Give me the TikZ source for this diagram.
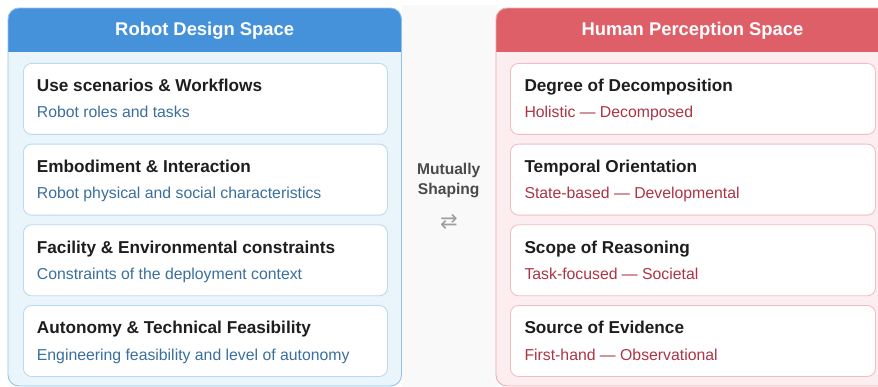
\documentclass[tikz,border=0pt]{standalone}
\usepackage{fontspec}
\setmainfont{Liberation Sans}
\newfontfamily\symfont{DejaVu Sans}
\definecolor{bluehead}{HTML}{4592DA}
\definecolor{bluebody}{HTML}{EAF4FB}
\definecolor{blueedge}{HTML}{92C4EA}
\definecolor{bluecard}{HTML}{BBDAF0}
\definecolor{bluesub}{HTML}{3A6F9E}
\definecolor{redhead}{HTML}{DF5F68}
\definecolor{redbody}{HTML}{FCEEF0}
\definecolor{rededge}{HTML}{EDABB1}
\definecolor{redcard}{HTML}{F3BEC3}
\definecolor{redsub}{HTML}{AE3444}
\definecolor{titletext}{HTML}{1E1E1E}
\definecolor{midtext}{HTML}{4A4A4A}
\definecolor{midgray}{HTML}{F9F9F9}
\tikzset{
  x=1pt, y=-1pt,
  panel/.style={rounded corners=11pt, line width=0.9pt},
  card/.style={draw, fill=white, rounded corners=8pt, line width=0.9pt,
    minimum width=364pt, minimum height=71pt, anchor=north west},
  headtext/.style={text=white, font=\fontsize{18.4}{22}\selectfont\bfseries, anchor=base},
  cardtitle/.style={text=titletext, font=\fontsize{17.2}{20}\selectfont\bfseries, anchor=base west, inner sep=0pt},
  cardsub/.style={font=\fontsize{15.8}{18}\selectfont, anchor=base west, inner sep=0pt},
  midlabel/.style={text=midtext, font=\fontsize{15.6}{18}\selectfont\bfseries, anchor=base},
}
\begin{document}
\begin{tikzpicture}
\useasboundingbox (0,0) rectangle (878,387);
\clip (0,0) rectangle (878,387);
\fill[white] (0,0) rectangle (878,387);
\fill[midgray] (402,5) rectangle (497,387);

% left panel: robot design space
\begin{scope}
  \clip[rounded corners=11pt] (8,8) rectangle (401.5,386);
  \fill[bluebody] (8,8) rectangle (401.5,386);
  \fill[bluehead] (8,8) rectangle (401.5,52);
\end{scope}
\draw[panel, blueedge] (8,8) rectangle (401.5,386);
\node[headtext] (lhead) at (204.7,36) {Robot Design Space};

\foreach \i/\t/\s in {
  0/{Use scenarios \& Workflows}/{Robot roles and tasks},
  1/{Embodiment \& Interaction}/{Robot physical and social characteristics},
  2/{Facility \& Environmental constraints}/{Constraints of the deployment context},
  3/{Autonomy \& Technical Feasibility}/{Engineering feasibility and level of autonomy}}{
  \node[card, draw=bluecard] (l\i) at (23,63+80.67*\i) {};
  \node[cardtitle] (lt\i) at ([xshift=13.7pt,yshift=-28.7pt]l\i.north west) {\t};
  \node[cardsub, text=bluesub] (ls\i) at ([xshift=13.7pt,yshift=-55pt]l\i.north west) {\s};
}

% right panel: human perception space
\begin{scope}
  \clip[rounded corners=11pt] (496,8) rectangle (889,386);
  \fill[redbody] (496,8) rectangle (889,386);
  \fill[redhead] (496,8) rectangle (889,52);
\end{scope}
\draw[panel, rededge] (496,8) rectangle (889,386);
\node[headtext] (rhead) at (692.5,36) {Human Perception Space};

\foreach \i/\t/\s in {
  0/{Degree of Decomposition}/{Holistic — Decomposed},
  1/{Temporal Orientation}/{State-based — Developmental},
  2/{Scope of Reasoning}/{Task-focused — Societal},
  3/{Source of Evidence}/{First-hand — Observational}}{
  \node[card, draw=redcard, minimum width=365pt] (r\i) at (510,63+80.67*\i) {};
  \node[cardtitle] (rt\i) at ([xshift=14.3pt,yshift=-28.7pt]r\i.north west) {\t};
  \node[cardsub, text=redsub] (rs\i) at ([xshift=14.3pt,yshift=-55pt]r\i.north west) {\s};
}

% link between the two spaces
\node[midlabel] (mid1) at (448.7,175) {Mutually};
\node[midlabel] (mid2) at (448.7,194.5) {Shaping};
\node[text=gray!75, font=\symfont\fontsize{21}{21}\selectfont, anchor=center] (swap) at (449,221.5) {⇄};
\end{tikzpicture}
\end{document}
